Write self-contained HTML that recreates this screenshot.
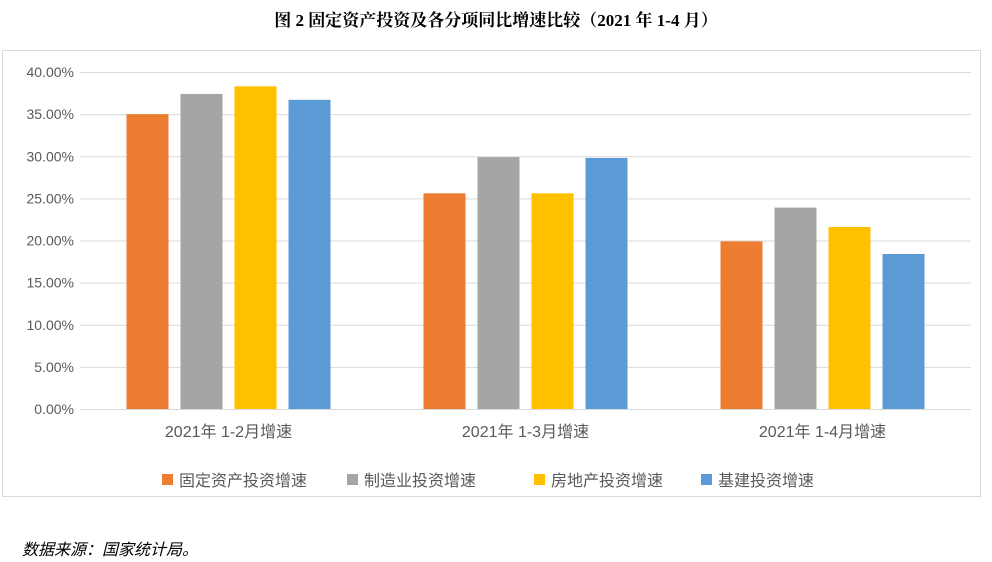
<!DOCTYPE html>
<html><head><meta charset="utf-8"><style>
body{margin:0;width:992px;height:562px;background:#fff;font-family:"Liberation Sans","Noto Sans CJK SC",sans-serif;overflow:hidden;position:relative}
</style></head><body>
<div style="position:absolute;left:0;top:6px;width:992px;text-align:center;font-family:'Liberation Serif','Noto Serif CJK SC',serif;font-weight:bold;font-size:17px;color:#000">图 2  固定资产投资及各分项同比增速比较（2021 年 1-4 月）</div>
<svg id="chart" width="992" height="562" style="position:absolute;left:0;top:0">
<rect x="2.5" y="50.5" width="978" height="446" fill="none" stroke="#d9d9d9"/>
</svg>
<div style="position:absolute;left:22px;top:536px;font-style:italic;font-size:16px;font-family:'Liberation Serif','Noto Sans CJK SC',serif">数据来源：国家统计局。</div>
<script>
const categories=["2021年 1-2月增速","2021年 1-3月增速","2021年 1-4月增速"];
const seriesNames=["固定资产投资增速","制造业投资增速","房地产投资增速","基建投资增速"];
const fixedAsset=[35.0,25.6,19.9];
const manufacturing=[37.4,29.9,23.9];
const realEstate=[38.3,25.6,21.6];
const infrastructure=[36.7,29.8,18.4];
const yTicks=[0,5,10,15,20,25,30,35,40];
const colors=["#ed7d31","#a5a5a5","#ffc000","#5b9bd5"];
const svg=document.getElementById('chart');const NS="http://www.w3.org/2000/svg";
const x0=80,x1=971,y0=409,yTop=72,yMax=40;
const yS=v=>y0-(v/yMax)*(y0-yTop);
const cw=(x1-x0)/categories.length;
function mk(t,a,txt){const e=document.createElementNS(NS,t);for(const k in a)e.setAttribute(k,a[k]);if(txt!==undefined)e.textContent=txt;svg.appendChild(e);return e;}
yTicks.forEach(t=>{
 const g=mk('line',{x1:x0,x2:x1,y1:yS(t)+.5,y2:yS(t)+.5,stroke:'#d9d9d9'});
 
 
 const l=mk('text',{x:74,y:yS(t)+5,'text-anchor':'end','font-size':'14',fill:'#595959'},t.toFixed(2)+'%');
 
 
});
const series=[fixedAsset,manufacturing,realEstate,infrastructure];
const bw=42,step=54;
categories.forEach((c,i)=>{
 const cx=x0+cw*(i+0.5);
 series.forEach((s,j)=>{
  const x=cx-2*step+(step-bw)/2+j*step;
  const r=mk('rect',{x:x,y:yS(s[i]),width:bw,height:y0-yS(s[i]),fill:colors[j]});
  
  
 });
 const t=mk('text',{x:cx,y:437,'text-anchor':'middle','font-size':'16',fill:'#595959'},c);
 
 
});
const legX=[162,347,534,701];
seriesNames.forEach((n,j)=>{
 const r=mk('rect',{x:legX[j],y:474,width:11,height:11,fill:colors[j]});
 
 
 const t=mk('text',{x:legX[j]+17,y:486,'font-size':'16',fill:'#595959'},n);
 
 
});
</script>
</body></html>
